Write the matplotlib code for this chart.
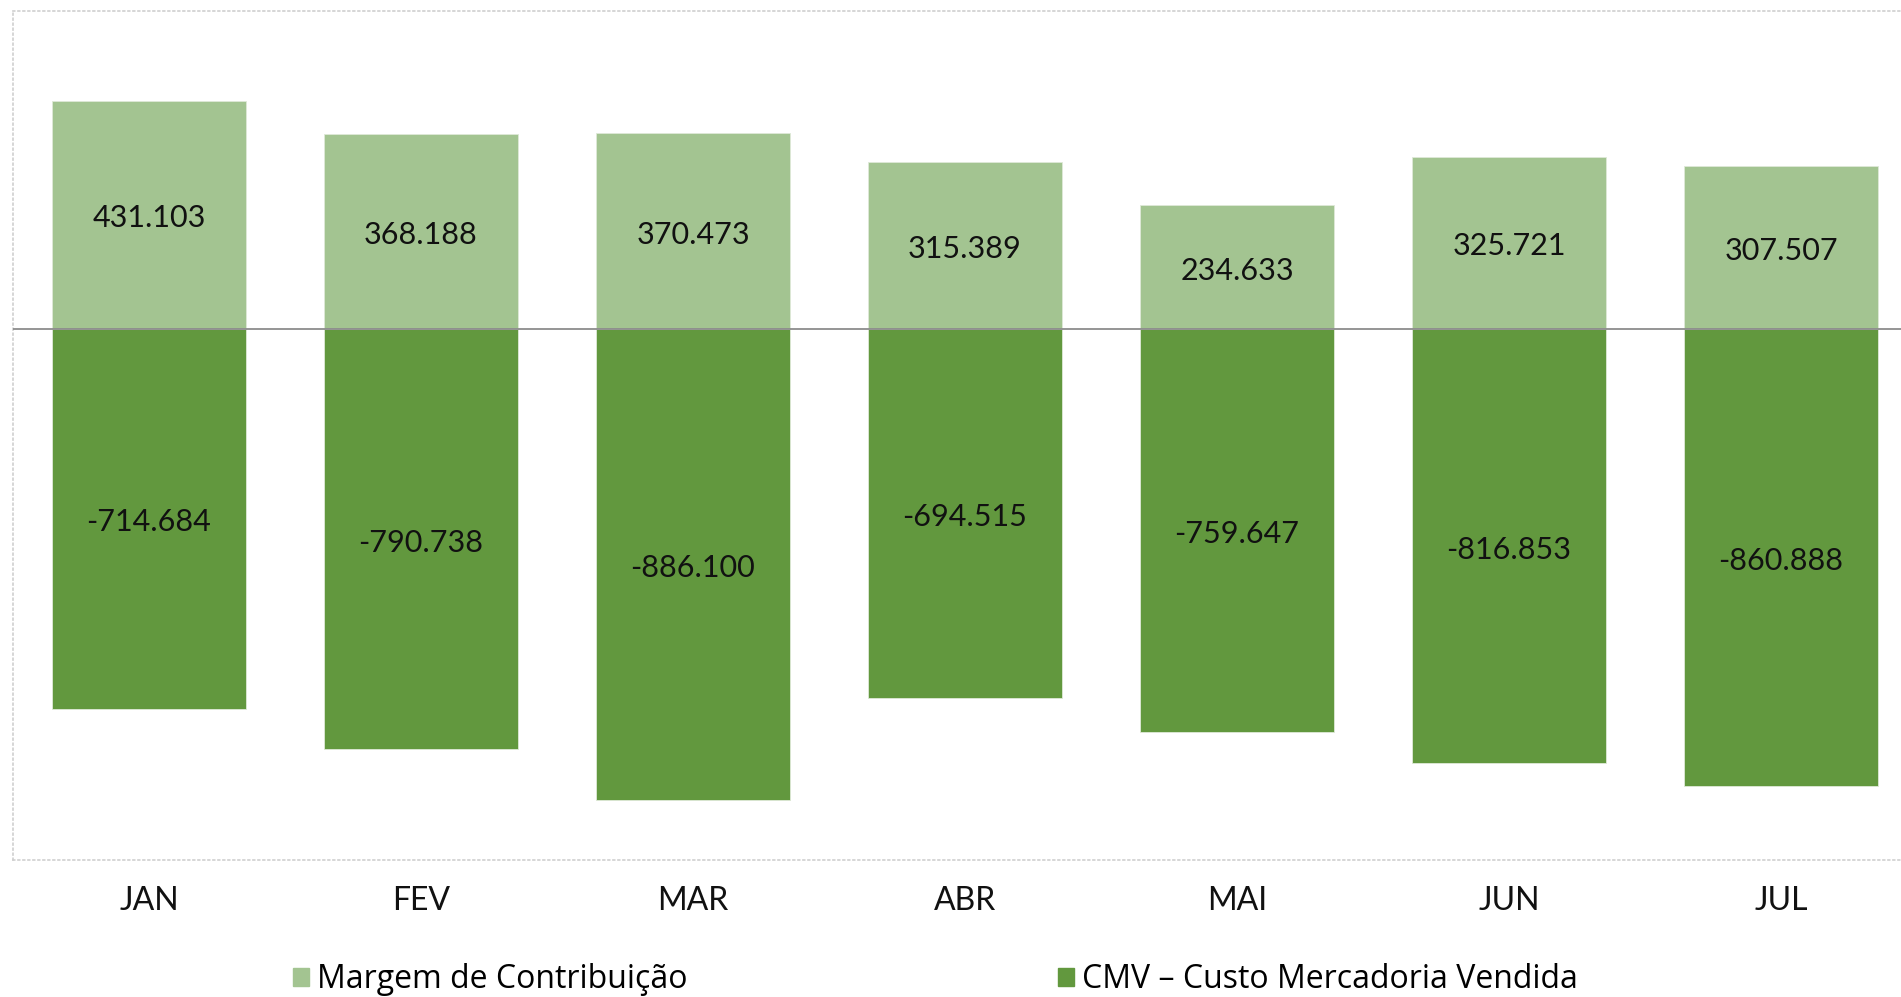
import matplotlib
matplotlib.use("Agg")
import matplotlib.pyplot as plt
from matplotlib.patches import Patch

meses = ["JAN", "FEV", "MAR", "ABR", "MAI", "JUN", "JUL"]
margem = [431103, 368188, 370473, 315389, 234633, 325721, 307507]
cmv = [-714684, -790738, -886100, -694515, -759647, -816853, -860888]

cor_margem = "#A3C491"
cor_cmv = "#62983E"


def fmt(v):
    # formato brasileiro: ponto como separador de milhar
    return f"{v:,}".replace(",", ".")


fig = plt.figure(figsize=(19.01, 9.97), dpi=100)
ax = fig.add_axes([13 / 1901, 137 / 997, 1904 / 1901, 849 / 997])

x = range(len(meses))
ax.bar(x, margem, width=0.713, color=cor_margem, edgecolor="#dfe9d8", linewidth=0.6, zorder=2)
ax.bar(x, cmv, width=0.713, color=cor_cmv, edgecolor="#dfe9d8", linewidth=0.6, zorder=2)
ax.axhline(0, color="#8c8c8c", linewidth=1.3, zorder=3)

for i in x:
    for v in (margem[i], cmv[i]):
        ax.annotate(fmt(v), (i, v / 2), xytext=(0, -2.5), textcoords="offset points",
                    ha="center", va="center", fontsize=22, family="Lato",
                    color="#111111", zorder=4)

ax.set_xlim(-0.5, 6.5)
ax.set_ylim(-1000000, 600000)
ax.set_yticks([])
ax.set_xticks(list(x))
ax.set_xticklabels(meses, fontsize=23, family="Lato", color="#111111")
ax.tick_params(axis="x", length=0, pad=19)

for lado in ["left", "top", "bottom", "right"]:
    ax.spines[lado].set_linestyle((0, (1, 2)))
    ax.spines[lado].set_color("#cfcfcf")
    ax.spines[lado].set_linewidth(1.2)

leg_kw = dict(loc="center left", frameon=False,
              prop={"family": "Open Sans", "size": 23},
              handlelength=0.5, handleheight=0.5, handletextpad=0.25,
              borderpad=0, borderaxespad=0)
leg1 = fig.legend(handles=[Patch(color=cor_margem, label="Margem de Contribuição")],
                  bbox_to_anchor=(293 / 1901, 17.5 / 997), **leg_kw)
leg2 = fig.legend(handles=[Patch(color=cor_cmv, label="CMV – Custo Mercadoria Vendida")],
                  bbox_to_anchor=(1058 / 1901, 17.5 / 997), **leg_kw)

fig.savefig("out.png", dpi=100, facecolor="white")
